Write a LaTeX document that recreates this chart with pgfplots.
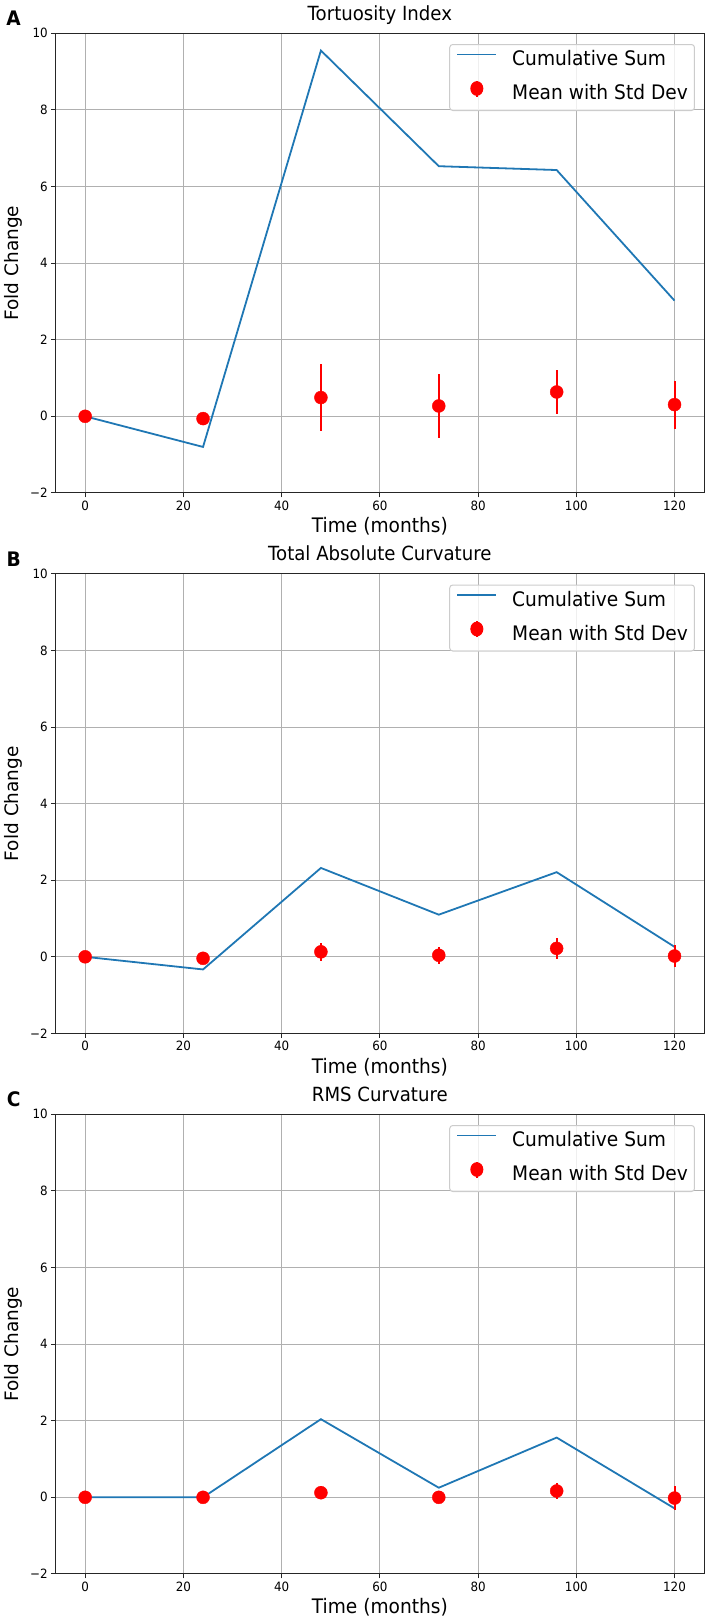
\documentclass[border=0pt]{standalone}
\usepackage{fontspec}
\setmainfont{DejaVu Sans}[FakeStretch=0.93]
\newfontfamily\ylfont{DejaVu Sans}
\usepackage{pgfplots}
\pgfplotsset{compat=1.18}
\usepackage{pgfplotstable}
\definecolor{mplblue}{HTML}{1F77B4}
\definecolor{gridgray}{HTML}{B0B0B0}
\definecolor{leggray}{HTML}{CCCCCC}

\pgfplotstableread{
x y
0 0
24 -0.80
48 9.55
72 6.53
96 6.43
120 3.02
}\lineA
\pgfplotstableread{
x y e
0 0 0
24 -0.06 0
48 0.49 0.87
72 0.27 0.83
96 0.635 0.575
120 0.305 0.625
}\ptsA
\pgfplotstableread{
x y
0 0
24 -0.33
48 2.32
72 1.10
96 2.21
120 0.26
}\lineB
\pgfplotstableread{
x y e
0 0 0
24 -0.04 0
48 0.13 0.24
72 0.04 0.22
96 0.22 0.27
120 0.02 0.28
}\ptsB
\pgfplotstableread{
x y
0 0
24 0
48 2.04
72 0.25
96 1.56
120 -0.29
}\lineC
\pgfplotstableread{
x y e
0 0 0
24 0 0
48 0.12 0.17
72 0 0.06
96 0.165 0.21
120 -0.02 0.32
}\ptsC

\tikzset{letter/.style={font=\bfseries\fontsize{20bp}{24bp}\selectfont, anchor=center}}

\pgfplotsset{
  panel/.style={
    width=648.3bp, height=459.6bp, scale only axis,
    clip mode=individual,
    xmin=-6, xmax=126, ymin=-2, ymax=10,
    xtick={0,20,...,120}, ytick={-2,0,...,10},
    yticklabels={−2,0,2,4,6,8,10},
    xtick pos=bottom, ytick pos=left,
    grid=major, major grid style={gridgray, line width=0.9bp},
    axis line style={black!85, line width=1bp},
    tick align=outside, major tick length=4.5bp,
    tick style={black!85, line width=1bp},
    ticklabel style={font=\fontsize{12.8bp}{15bp}\selectfont},
    /pgf/number format/assume math mode=true,
    title style={at={(axis description cs:0.5,1.0159)}, anchor=base, font=\fontsize{19.5bp}{23bp}\selectfont},
    xlabel={Time (months)},
    xlabel style={at={(axis description cs:0.5,-0.087)}, anchor=base, font=\fontsize{20bp}{24bp}\selectfont},
    ylabel={Fold Change},
    ylabel style={at={(axis description cs:-0.0577,0.5)}, anchor=base, font=\ylfont\fontsize{18.5bp}{22bp}\selectfont},
    legend cell align=left,
    legend style={at={(axis description cs:0.9861,0.9767)}, anchor=north east,
      draw=leggray, line width=1bp, rounded corners=3bp, fill=white, fill opacity=0.8, text opacity=1,
      font=\fontsize{20bp}{24bp}\selectfont, inner xsep=6.7bp, inner ysep=7bp,
      row sep=10bp, column sep=0bp,
      nodes={inner sep=0pt, text height=14bp, text depth=4bp}},
  },
  cumline/.style={mplblue, line width=1.8bp, mark=none,
    legend image code/.code={\draw[mplblue, line width=1.8bp, draw opacity=1] (0bp,6bp)--(39bp,6bp); \path (54bp,0bp);}},
  errpts/.style={red, only marks, mark=*, mark size=6.5bp, mark options={fill=red, draw=red},
    error bars/.cd, y dir=both, y explicit, error mark=none,
    error bar style={red, line width=2bp},
    /pgfplots/legend image code/.code={\draw[red, line width=2bp, draw opacity=1] (19.5bp,-2bp)--(19.5bp,14bp); \fill[red, fill opacity=1] (19.5bp,6bp) ellipse (6bp and 6.8bp); \path (0bp,0bp) (54bp,0bp);}},
}

\begin{document}
\begin{tikzpicture}
\useasboundingbox (-55.7bp,-1128.1bp) rectangle (653.3bp,492.9bp);
\begin{axis}[panel, title={Tortuosity Index}, at={(0bp,0bp)}]
  \addplot[cumline] table[x=x,y=y] {\lineA};
  \addlegendentry{Cumulative Sum}
  \addplot[errpts] table[x=x,y=y,y error=e] {\ptsA};
  \addlegendentry{Mean with Std Dev}
  \node[letter] at (axis description cs:-0.0648,1.032) {A};
\end{axis}
\begin{axis}[panel, title={Total Absolute Curvature}, at={(0bp,-540.5bp)}]
  \addplot[cumline] table[x=x,y=y] {\lineB};
  \addlegendentry{Cumulative Sum}
  \addplot[errpts] table[x=x,y=y,y error=e] {\ptsB};
  \addlegendentry{Mean with Std Dev}
  \node[letter] at (axis description cs:-0.0648,1.032) {B};
\end{axis}
\begin{axis}[panel, title={RMS Curvature}, at={(0bp,-1081bp)}]
  \addplot[cumline] table[x=x,y=y] {\lineC};
  \addlegendentry{Cumulative Sum}
  \addplot[errpts] table[x=x,y=y,y error=e] {\ptsC};
  \addlegendentry{Mean with Std Dev}
  \node[letter] at (axis description cs:-0.0648,1.032) {C};
\end{axis}
\end{tikzpicture}
\end{document}
